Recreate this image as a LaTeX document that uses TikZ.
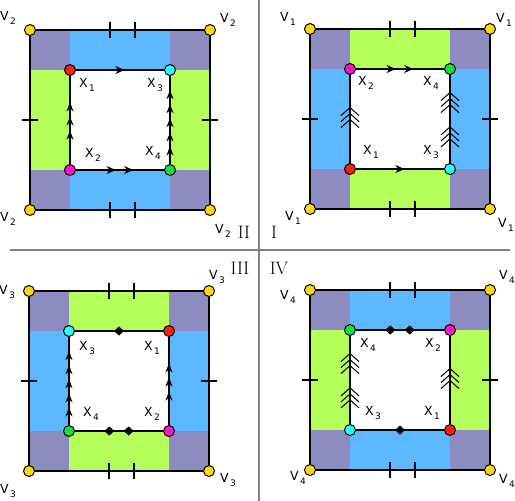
\documentclass[tikz,border=0pt]{standalone}
\usepackage{fontspec}
\newfontfamily\lblfont{DejaVu Sans}
\usepackage{xcolor}
\usetikzlibrary{arrows.meta,positioning,decorations.markings}

\definecolor{cornerpurple}{RGB}{140,140,192}
\definecolor{bandblue}{RGB}{94,184,255}
\definecolor{bandgreen}{RGB}{180,255,90}
\definecolor{dotyellow}{RGB}{255,215,20}
\definecolor{dotred}{RGB}{255,30,10}
\definecolor{dotcyan}{RGB}{40,255,255}
\definecolor{dotmagenta}{RGB}{255,20,200}
\definecolor{dotgreen}{RGB}{30,220,60}

\newcommand{\withsub}[2]{#1\kern1.5pt\raisebox{-3.5pt}{\fontsize{9}{9}\selectfont #2}}

\begin{document}
\begin{tikzpicture}[x=1pt, y=-1pt,
xdot/.style={circle, draw, line width=1pt, inner sep=0pt, minimum size=11pt},
vtx/.style={xdot, fill=dotyellow},
lbl/.style={on grid, font=\lblfont\fontsize{12.5}{14}\selectfont, inner sep=0pt},
num/.style={font=\fontsize{18}{20}\selectfont, inner sep=0pt},
side/.style={line width=1.4pt},
tickmark/.style={line width=1.2pt},
divider/.style={draw=gray, line width=1.4pt},
head/.style={postaction={decorate, decoration={markings, mark=at position #1 with {\arrow{Stealth[length=9pt, width=8pt]}}}}},
thin head/.style={postaction={decorate, decoration={markings, mark=at position #1 with {\arrow{Stealth[length=9pt, width=7pt]}}}}},
chevrons/.style={postaction={decorate, decoration={markings, mark=at position #1 with {\foreach \s in {0,6,12} {\draw[line width=1pt] ({(-\s-8)*1pt},-9pt) -- ({-\s*1pt},0pt) -- ({(-\s-8)*1pt},9pt);}}}}},
diam/.style={postaction={decorate, decoration={markings, mark=at position #1 with {\fill (-5pt,0pt) -- (0pt,4.5pt) -- (5pt,0pt) -- (0pt,-4.5pt) -- cycle;}}}}
]
\useasboundingbox (0,0) rectangle (515,501);

% dividers
\draw[divider] (259,0) -- (259,501);
\draw[divider] (10,250) -- (510,250);

% frames
\foreach \q/\ox/\oy/\tb/\lr in {2/30/30/bandblue/bandgreen, 1/310/29/bandgreen/bandblue, 3/29/291/bandgreen/bandblue, 4/310/290/bandblue/bandgreen}{
  \begin{scope}[shift={(\ox,\oy)}]
    \fill[cornerpurple] (0,0) rectangle (180,180);
    \fill[\tb] (40,0) rectangle (140,180);
    \fill[\lr] (0,40) rectangle (180,140);
    \fill[white] (40,40) rectangle (140,140);
    \draw[tickmark] (80,-8) -- (80,8) (105,-8) -- (105,8) (80,172) -- (80,188) (105,172) -- (105,188)
      (-8,90) -- (8,90) (172,90) -- (188,90);
    \node[vtx] (v\q-tl) at (0,0) {};
    \node[vtx] (v\q-tr) at (180,0) {};
    \node[vtx] (v\q-bl) at (0,180) {};
    \node[vtx] (v\q-br) at (180,180) {};
    \draw[side] (v\q-tl) -- (v\q-tr) -- (v\q-br) -- (v\q-bl) -- (v\q-tl);
  \end{scope}
}

% II
\node[xdot, fill=dotred] (q2x1) at (70,70) {};
\node[xdot, fill=dotcyan] (q2x3) at (170,70) {};
\node[xdot, fill=dotmagenta] (q2x2) at (70,170) {};
\node[xdot, fill=dotgreen] (q2x4) at (170,170) {};
\draw[side, head=0.55] (q2x1) -- (q2x3);
\draw[side, head=0.45, head=0.65] (q2x2) -- (q2x4);
\draw[side, thin head=0.38, thin head=0.54, thin head=0.7] (q2x2) -- (q2x1);
\draw[side, thin head=0.2, thin head=0.36, thin head=0.52, thin head=0.68, thin head=0.84] (q2x4) -- (q2x3);
\node[lbl, below right=15pt and 17pt of q2x1] {\withsub{X}{1}};
\node[lbl, below left=15pt and 15pt of q2x3] {\withsub{X}{3}};
\node[lbl, above right=15pt and 23pt of q2x2] {\withsub{X}{2}};
\node[lbl, above left=17pt and 17pt of q2x4] {\withsub{X}{4}};
\node[lbl, above left=12pt and 22pt of v2-tl] {\withsub{V}{2}};
\node[lbl, above right=10pt and 18pt of v2-tr] {\withsub{V}{2}};
\node[lbl, below left=9pt and 22pt of v2-bl] {\withsub{V}{2}};
\node[lbl, below right=21pt and 13pt of v2-br] {\withsub{V}{2}};
\node[num] (n2) at (244,232) {II};

% I
\node[xdot, fill=dotmagenta] (q1x2) at (350,69) {};
\node[xdot, fill=dotgreen] (q1x4) at (450,69) {};
\node[xdot, fill=dotred] (q1x1) at (350,169) {};
\node[xdot, fill=dotcyan] (q1x3) at (450,169) {};
\draw[side, head=0.45, head=0.65] (q1x2) -- (q1x4);
\draw[side, head=0.55] (q1x1) -- (q1x3);
\draw[side, chevrons=0.63] (q1x1) -- (q1x2);
\draw[side, chevrons=0.41, chevrons=0.8] (q1x3) -- (q1x4);
\node[lbl, below right=14pt and 16pt of q1x2] {\withsub{X}{2}};
\node[lbl, below left=14pt and 19pt of q1x4] {\withsub{X}{4}};
\node[lbl, above right=17pt and 21pt of q1x1] {\withsub{X}{1}};
\node[lbl, above left=17pt and 19pt of q1x3] {\withsub{X}{3}};
\node[lbl, above left=10pt and 22pt of v1-tl] {\withsub{V}{1}};
\node[lbl, above right=9pt and 14pt of v1-tr] {\withsub{V}{1}};
\node[lbl, below left=9pt and 17pt of v1-bl] {\withsub{V}{1}};
\node[lbl, below right=16pt and 16pt of v1-br] {\withsub{V}{1}};
\node[num] (n1) at (274,232) {I};

% III
\node[xdot, fill=dotcyan] (q3x3) at (69,331) {};
\node[xdot, fill=dotred] (q3x1) at (169,331) {};
\node[xdot, fill=dotgreen] (q3x4) at (69,431) {};
\node[xdot, fill=dotmagenta] (q3x2) at (169,431) {};
\draw[side, diam=0.5] (q3x3) -- (q3x1);
\draw[side, diam=0.39, diam=0.61] (q3x4) -- (q3x2);
\draw[side, thin head=0.2, thin head=0.36, thin head=0.52, thin head=0.68, thin head=0.84] (q3x4) -- (q3x3);
\draw[side, thin head=0.38, thin head=0.54, thin head=0.7] (q3x2) -- (q3x1);
\node[lbl, below right=17pt and 18pt of q3x3] {\withsub{X}{3}};
\node[lbl, below left=17pt and 17pt of q3x1] {\withsub{X}{1}};
\node[lbl, above right=17pt and 22pt of q3x4] {\withsub{X}{4}};
\node[lbl, above left=17pt and 17pt of q3x2] {\withsub{X}{2}};
\node[lbl, below left=1pt and 22pt of v3-tl] {\withsub{V}{3}};
\node[lbl, above right=14pt and 8pt of v3-tr] {\withsub{V}{3}};
\node[lbl, below left=20pt and 21pt of v3-bl] {\withsub{V}{3}};
\node[lbl, below right=9pt and 19pt of v3-br] {\withsub{V}{3}};
\node[num] (n3) at (240,268) {III};

% IV
\node[xdot, fill=dotgreen] (q4x4) at (350,330) {};
\node[xdot, fill=dotmagenta] (q4x2) at (450,330) {};
\node[xdot, fill=dotcyan] (q4x3) at (350,430) {};
\node[xdot, fill=dotred] (q4x1) at (450,430) {};
\draw[side, diam=0.39, diam=0.61] (q4x4) -- (q4x2);
\draw[side, diam=0.5] (q4x3) -- (q4x1);
\draw[side, chevrons=0.41, chevrons=0.8] (q4x3) -- (q4x4);
\draw[side, chevrons=0.63] (q4x1) -- (q4x2);
\node[lbl, below right=15pt and 18pt of q4x4] {\withsub{X}{4}};
\node[lbl, below left=15pt and 17pt of q4x2] {\withsub{X}{2}};
\node[lbl, above right=17pt and 23pt of q4x3] {\withsub{X}{3}};
\node[lbl, above left=17pt and 18pt of q4x1] {\withsub{X}{1}};
\node[lbl, below left=7pt and 22pt of v4-tl] {\withsub{V}{4}};
\node[lbl, above right=13pt and 17pt of v4-tr] {\withsub{V}{4}};
\node[lbl, below left=8pt and 12pt of v4-bl] {\withsub{V}{4}};
\node[lbl, below right=11pt and 17pt of v4-br] {\withsub{V}{4}};
\node[num] (n4) at (279,268) {IV};
\end{tikzpicture}
\end{document}
